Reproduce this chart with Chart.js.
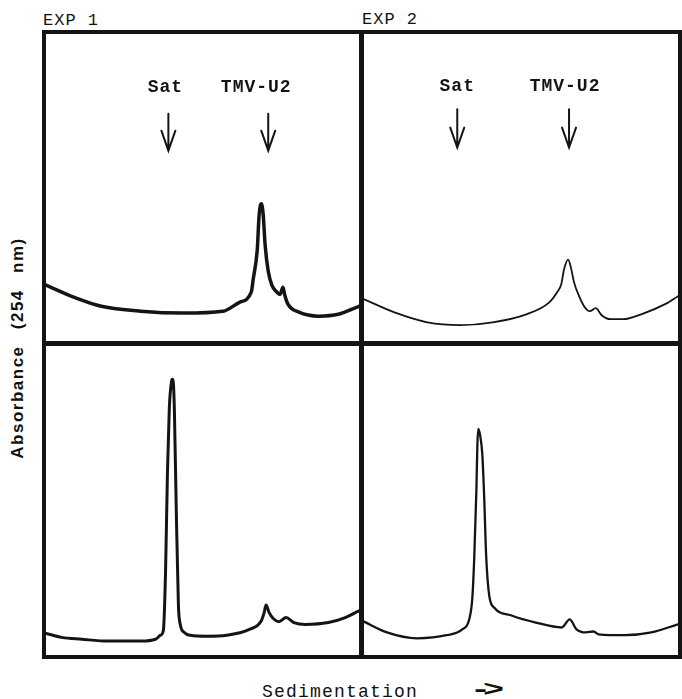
<!DOCTYPE html>
<html>
<head>
<meta charset="utf-8">
<script src="https://cdn.jsdelivr.net/npm/chart.js@4.4.1/dist/chart.umd.min.js"></script>
<style>
  body { margin: 0; background: #fff; width: 682px; height: 699px; position: relative; overflow: hidden;
         font-family: "Liberation Mono", monospace; color: #111; }
  .panel { position: absolute; }
  .exp { position: absolute; font-size: 17px; line-height: 17px; letter-spacing: 1px; white-space: nowrap; }
  #yTitle { position: absolute; left: 18px; top: 348px; transform: translate(-50%, -50%) rotate(-90deg);
            font-family: "Liberation Sans", Arial, sans-serif; font-weight: bold; font-size: 17px;
            letter-spacing: 1.5px; word-spacing: 10px; white-space: nowrap; }
  #xTitle { position: absolute; left: 262px; top: 683px; font-size: 18px; line-height: 18px;
            letter-spacing: 1.2px; white-space: nowrap; }
  #xArrow { position: absolute; left: 470px; top: 680px; font-size: 22px; line-height: 22px; font-weight: bold;
            letter-spacing: -5px; transform: scaleX(1.6); transform-origin: left center; white-space: nowrap; }
</style>
</head>
<body>
<div class="exp" style="left:43px; top:12px;">EXP 1</div>
<div class="exp" style="left:362px; top:11px;">EXP 2</div>
<div id="yTitle">Absorbance (254 nm)</div>
<div id="xTitle">Sedimentation</div>
<div id="xArrow">-&gt;</div>

<div class="panel" style="left:42px; top:30px; width:321px; height:315px;"><canvas id="exp1Top"></canvas></div>
<div class="panel" style="left:360px; top:30px; width:322px; height:315px;"><canvas id="exp2Top"></canvas></div>
<div class="panel" style="left:42px; top:342px; width:321px; height:317px;"><canvas id="exp1Bottom"></canvas></div>
<div class="panel" style="left:360px; top:342px; width:322px; height:317px;"><canvas id="exp2Bottom"></canvas></div>

<script>
// posición de sedimentación (0 = arriba del gradiente, 100 = fondo) y absorbancia relativa
const exp1TopX = [0, 9.1, 17.7, 30.3, 43.8, 56.5, 61.8, 65.6, 66.2, 67.5, 68.1, 68.8, 69.4, 70.0, 71.0, 72.2, 73.5, 74.8, 75.7, 76.3, 77.3, 80.8, 87.1, 93.4, 100];
const exp1TopY = [18.2, 14.2, 11.3, 9.7, 9.1, 9.7, 12.6, 16.0, 20.1, 29.8, 41.1, 44.7, 41.1, 31.4, 22.7, 18.1, 16.2, 15.2, 17.5, 14.9, 12.0, 9.4, 8.1, 8.7, 11.3];

const exp2TopX = [0, 9.5, 20.2, 30.6, 41.0, 51.7, 59.0, 61.5, 62.8, 63.7, 65.0, 65.9, 66.9, 68.5, 70.3, 71.9, 73.8, 75.7, 78.5, 82.6, 88.3, 95.9, 100];
const exp2TopY = [13.6, 9.4, 6.1, 5.2, 6.1, 8.7, 12.6, 15.9, 18.4, 23.3, 26.5, 23.9, 19.1, 14.6, 11.0, 9.7, 10.7, 8.4, 7.1, 7.1, 8.7, 12.0, 14.6];

const exp1BottomX = [0, 5.0, 11.4, 19.9, 30.3, 35.0, 36.6, 37.5, 38.2, 38.8, 39.4, 40.1, 40.4, 40.7, 41.0, 41.6, 42.3, 42.9, 44.2, 46.1, 51.4, 57.7, 65.0, 68.8, 69.7, 70.3, 71.3, 72.6, 74.4, 76.7, 79.2, 82.9, 90.2, 95.6, 100];
const exp1BottomY = [7.0, 5.7, 5.1, 4.5, 4.5, 5.1, 6.4, 8.0, 27.1, 58.9, 79.9, 88.5, 89.2, 87.9, 79.9, 48.1, 16.2, 9.9, 7.3, 6.4, 6.1, 6.4, 8.3, 11.1, 13.7, 16.2, 13.7, 11.8, 10.8, 12.1, 10.5, 9.9, 10.5, 12.1, 14.3];

const exp2BottomX = [0, 7.3, 16.8, 26.3, 31.3, 33.5, 34.5, 35.1, 35.8, 36.1, 36.4, 37.0, 37.7, 38.3, 38.9, 39.9, 41.5, 47.2, 54.7, 63.0, 65.5, 67.7, 70.6, 73.1, 74.7, 83.2, 91.5, 100];
const exp2BottomY = [10.8, 7.3, 5.4, 6.4, 8.3, 11.5, 18.5, 31.2, 53.5, 67.8, 73.2, 71.0, 64.6, 50.3, 32.2, 19.1, 15.3, 12.7, 10.5, 8.9, 11.5, 8.3, 7.3, 7.6, 6.7, 6.4, 7.3, 9.9];

// marcadores de Sat y TMV-U2
const markerLabels = ['Sat', 'TMV-U2'];
const exp1MarkerX = [39.1, 71.0];
const exp2MarkerX = [29.7, 65.3];

const ink = '#141414';

// marco negro grueso alrededor de cada panel
const framePlugin = {
    id: 'frame',
    afterDraw(chart, args, opts) {
        const { ctx, chartArea: a } = chart;
        const w = opts.width;
        ctx.save();
        ctx.strokeStyle = ink;
        ctx.lineWidth = w;
        ctx.strokeRect(a.left - w / 2, a.top - w / 2, a.right - a.left + w, a.bottom - a.top + w);
        ctx.restore();
    }
};

// etiquetas y flechas sobre los picos
const markerPlugin = {
    id: 'markers',
    afterDatasetsDraw(chart, args, opts) {
        if (!opts.positions) return;
        const { ctx, scales: { x, y } } = chart;
        ctx.save();
        ctx.fillStyle = ink;
        ctx.strokeStyle = ink;
        ctx.font = 'bold 18px "Liberation Mono", monospace';
        ctx.letterSpacing = '1px';
        ctx.textAlign = 'center';
        ctx.lineWidth = 2;
        ctx.lineCap = 'round';
        markerLabels.forEach((txt, i) => {
            const ax = x.getPixelForValue(opts.positions[i]);
            ctx.fillText(txt, ax + opts.labelShift[i], y.getPixelForValue(opts.labelY));
            const top = y.getPixelForValue(opts.arrowTop);
            const bot = y.getPixelForValue(opts.arrowBottom);
            ctx.beginPath();
            ctx.moveTo(ax, top);
            ctx.lineTo(ax, bot);
            ctx.moveTo(ax - 7, bot - 20);
            ctx.lineTo(ax, bot);
            ctx.lineTo(ax + 7, bot - 20);
            ctx.stroke();
        });
        ctx.restore();
    }
};

function perfil(id, xs, ys, grosor, markers) {
    new Chart(document.getElementById(id), {
        type: 'line',
        data: {
            datasets: [{
                data: xs.map((x, i) => ({ x: x, y: ys[i] })),
                borderColor: ink,
                borderWidth: grosor,
                borderCapStyle: 'round',
                borderJoinStyle: 'round',
                cubicInterpolationMode: 'monotone',
                pointRadius: 0,
                fill: false
            }]
        },
        options: {
            responsive: true,
            maintainAspectRatio: false,
            animation: false,
            layout: { padding: 4 },
            scales: {
                x: { type: 'linear', min: 0, max: 100, display: false },
                y: { min: 0, max: 100, display: false }
            },
            plugins: {
                legend: { display: false },
                tooltip: { enabled: false },
                frame: { width: 4 },
                markers: markers || {}
            }
        },
        plugins: [framePlugin, markerPlugin]
    });
}

perfil('exp1Top', exp1TopX, exp1TopY, 3.5, {
    positions: exp1MarkerX, labelShift: [-3, -12], labelY: 81, arrowTop: 74, arrowBottom: 62
});
perfil('exp2Top', exp2TopX, exp2TopY, 1.8, {
    positions: exp2MarkerX, labelShift: [0, -4], labelY: 81.5, arrowTop: 75.5, arrowBottom: 63
});
perfil('exp1Bottom', exp1BottomX, exp1BottomY, 3);
perfil('exp2Bottom', exp2BottomX, exp2BottomY, 2.3);
</script>
</body>
</html>
